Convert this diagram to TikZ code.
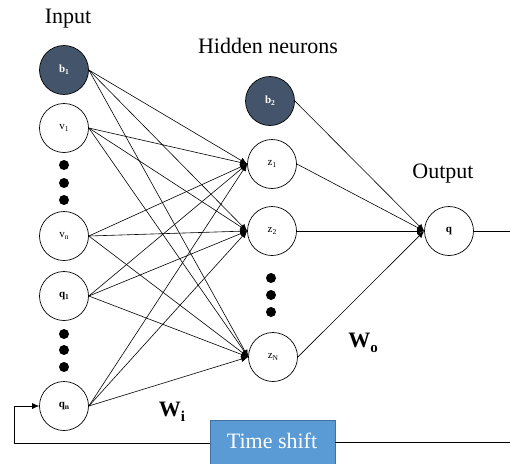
\documentclass[tikz,border=0pt]{standalone}
\usepackage{fontspec}
\setmainfont{Liberation Serif}
\usetikzlibrary{arrows.meta}
\definecolor{biasfill}{RGB}{68,84,106}
\definecolor{boxfill}{RGB}{91,155,213}
\definecolor{boxline}{RGB}{65,113,156}
\newcommand{\lsub}[1]{\raisebox{-0.35ex}{\fontsize{7.5}{8}\selectfont #1}}
\newcommand{\bsub}[1]{\raisebox{-0.45ex}{\fontsize{15}{16}\selectfont\bfseries #1}}
\tikzset{
  neuron/.style={circle,draw=black,line width=0.7pt,minimum size=49pt,inner sep=0pt,font=\fontsize{11}{12}\selectfont},
  bias/.style={neuron,fill=biasfill,text=white},
  conn/.style={line width=0.6pt,-{Latex[length=7pt,width=6pt]}},
  plain/.style={line width=0.6pt},
  dotmark/.style={circle,fill=black,inner sep=0pt,minimum width=9pt,minimum height=10pt},
  biglabel/.style={font=\fontsize{22}{24}\selectfont},
}
\begin{document}
\begin{tikzpicture}[x=1pt,y=-1pt]
\useasboundingbox (0,0) rectangle (510,463);
% labels
\node[biglabel] (lin) at (68,19) {Input};
\node[biglabel] (lhid) at (268,46) {Hidden neurons};
\node[biglabel] (lout) at (443,174) {Output};
\node[biglabel] (wi) at (172,412) {\textbf{W}\bsub{i}};
\node[biglabel] (wo) at (363,343) {\textbf{W}\bsub{o}};
% input layer
\node[bias] (b1) at (64,70) {\textbf{b}\lsub{\textbf{1}}};
\node[neuron] (v1) at (64,128) {v\lsub{1}};
\node[dotmark] (d1) at (64,165) {};
\node[dotmark] (d2) at (64,183) {};
\node[dotmark] (d3) at (64,200) {};
\node[neuron] (vn) at (64,236) {v\lsub{n}};
\node[neuron] (q1) at (64,296) {\textbf{q}\lsub{\textbf{1}}};
\node[dotmark] (d4) at (64,334) {};
\node[dotmark] (d5) at (64,350) {};
\node[dotmark] (d6) at (64,367) {};
\node[neuron] (qn) at (64,406) {\textbf{q}\lsub{\textbf{n}}};
% hidden layer
\node[bias] (b2) at (270,101) {\textbf{b}\lsub{\textbf{2}}};
\node[neuron] (z1) at (272,164) {z\lsub{1}};
\node[neuron] (z2) at (272,231) {z\lsub{2}};
\node[dotmark] (d7) at (271,278) {};
\node[dotmark] (d8) at (271,295) {};
\node[dotmark] (d9) at (271,312) {};
\node[neuron] (zN) at (273,357) {z\lsub{N}};
% output
\node[neuron] (q) at (449,231) {\textbf{q}};
\coordinate (qend) at (510,231);
% time shift
\node[draw=boxline,fill=boxfill,minimum width=125pt,minimum height=44pt,inner sep=0pt,anchor=north west] (ts) at (210,420) {};
\node[text=white,font=\fontsize{22}{24}\selectfont] (tstext) at (272,441) {Time shift};
\coordinate (tsl) at (210,443);
\coordinate (tsr) at (335,442);
\coordinate (fb1) at (14,443);
\coordinate (fb2) at (14,406);
\coordinate (rend) at (510,442);
% input -> hidden
\foreach \s in {b1,v1,vn,q1,qn}{
  \foreach \t in {z1,z2,zN}{
    \draw[conn] (\s.east) -- (\t.west);
  }
}
% hidden -> output
\foreach \s in {b2,z1,z2,zN}{
  \draw[conn] (\s.east) -- (q.west);
}
\draw[plain] (q.east) -- (qend);
% feedback
\draw[plain] (tsr) -- (rend);
\draw[conn] (tsl) -- (fb1) -- (fb2) -- (qn.west);
\end{tikzpicture}
\end{document}
